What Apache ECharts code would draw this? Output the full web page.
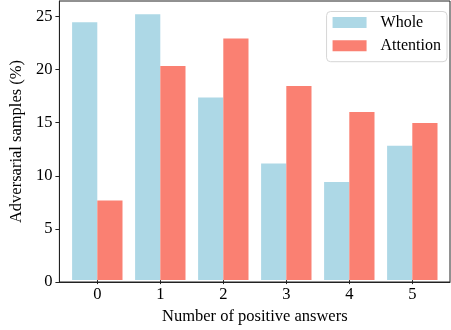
<!DOCTYPE html>
<html>
<head>
<meta charset="utf-8">
<script src="https://cdn.jsdelivr.net/npm/echarts@6/dist/echarts.min.js"></script>
<style>
html,body{margin:0;padding:0;background:#fff;}
#chart{width:451px;height:330px;}
</style>
</head>
<body>
<div id="chart"></div>
<script>
var categories = ['0', '1', '2', '3', '4', '5'];
var wholeValues = [24.43, 25.19, 17.3, 11.04, 9.3, 12.74];
var attentionValues = [7.55, 20.3, 22.9, 18.4, 15.94, 14.9];
var yTicks = [0, 5, 10, 15, 20, 25];
var yMax = 26.45;

var FONT = '"Liberation Serif", "Times New Roman", serif';
var chart = echarts.init(document.getElementById('chart'), null, {renderer: 'canvas'});
var axisColor = '#222';

chart.setOption({
  animation: false,
  backgroundColor: '#fff',
  textStyle: {fontFamily: FONT},
  grid: [
    {left: 53, right: 1, top: 1, bottom: 48, show: true, borderColor: axisColor, borderWidth: 1, backgroundColor: 'transparent'},
    {left: 65.8, right: 7.2, top: 1, bottom: 48}
  ],
  xAxis: [
    {gridIndex: 0, type: 'value', min: 0, max: 1, z: 10,
      axisLine: {show: true, lineStyle: {color: axisColor, width: 1}},
      axisTick: {show: false}, axisLabel: {show: false}, splitLine: {show: false}},
    {gridIndex: 1, type: 'category', data: categories,
      axisLine: {show: false},
      axisTick: {show: true, alignWithLabel: true, length: 4, lineStyle: {color: axisColor}},
      axisLabel: {color: '#000', fontSize: 16.5, fontFamily: FONT, margin: 6},
      name: 'Number of positive answers', nameLocation: 'middle', nameGap: 26,
      nameTextStyle: {color: '#000', fontSize: 16.5, fontFamily: FONT},
      splitLine: {show: false}}
  ],
  yAxis: [
    {gridIndex: 0, type: 'value', min: 0, max: yMax, interval: 5, z: 10,
      axisLine: {show: true, lineStyle: {color: axisColor, width: 1}},
      axisTick: {show: true, length: 4, lineStyle: {color: axisColor},
        customValues: yTicks},
      axisLabel: {color: '#000', fontSize: 16.5, fontFamily: FONT, margin: 7,
        customValues: yTicks},
      splitLine: {show: false},
      name: 'Adversarial samples (%)', nameLocation: 'middle', nameGap: 27,
      nameTextStyle: {color: '#000', fontSize: 16.5, fontFamily: FONT}},
    {gridIndex: 1, type: 'value', min: 0, max: yMax, show: false, splitLine: {show: false}}
  ],
  legend: {
    orient: 'vertical', right: 4, top: 11.5,
    itemWidth: 34, itemHeight: 11, itemGap: 7.2,
    padding: [3, 6, 8, 6],
    backgroundColor: 'rgba(255,255,255,0.85)',
    borderColor: '#d6d6d6', borderWidth: 1, borderRadius: 4,
    textStyle: {color: '#000', fontSize: 16, fontFamily: FONT, lineHeight: 16, padding: [0, 0, 0, 9]},
    data: [{name: 'Whole', icon: 'rect'}, {name: 'Attention', icon: 'rect'}]
  },
  series: [
    {name: 'Whole', type: 'bar', xAxisIndex: 1, yAxisIndex: 1, data: wholeValues,
      barWidth: '40%', barGap: '0%', itemStyle: {color: '#ADD8E6'}},
    {name: 'Attention', type: 'bar', xAxisIndex: 1, yAxisIndex: 1, data: attentionValues,
      barWidth: '40%', barGap: '0%', itemStyle: {color: '#FA8072'}}
  ]
});
</script>
</body>
</html>
